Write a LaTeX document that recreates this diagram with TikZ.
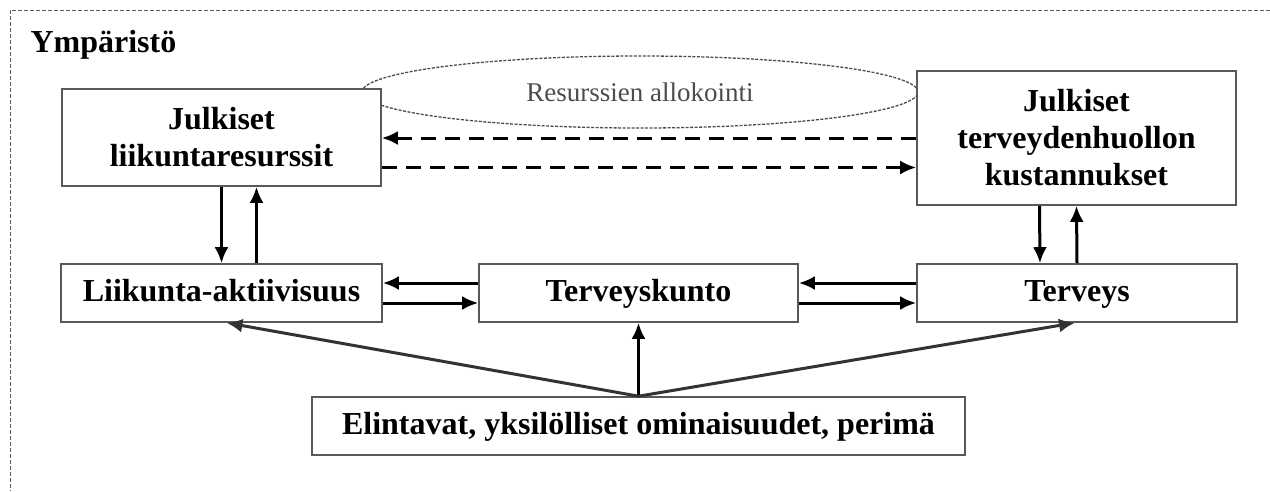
\documentclass[tikz,border=0pt]{standalone}
\usepackage{fontspec}
\setmainfont{Liberation Serif}
\usetikzlibrary{arrows.meta,positioning,shapes.geometric}
\definecolor{boxgray}{rgb}{0.35,0.35,0.35}
\definecolor{txtgray}{rgb}{0.3,0.3,0.3}

\begin{document}
\begin{tikzpicture}[x=1pt,y=-1pt,>=Latex,
  box/.style={draw=boxgray,line width=1.6pt,align=center,inner sep=0pt,font=\fontsize{32}{37}\selectfont\bfseries},
  onebox/.style={box,minimum height=58pt,text height=23pt,text depth=7pt},
  arr/.style={->,line width=3pt,>={Latex[length=16pt,width=14pt]}},
  darr/.style={arr,dash pattern=on 15pt off 9pt}]
\useasboundingbox (0,0) rectangle (1270,491);
\draw[boxgray,line width=1pt,dash pattern=on 4pt off 2pt] (1270,10) -- (10,10) -- (10,491);
\node[anchor=west,font=\fontsize{32}{37}\selectfont\bfseries] (env) at (27,45) {Ympäristö};
\node[ellipse,draw=txtgray,line width=1.3pt,dash pattern=on 3pt off 1.5pt,minimum width=556pt,minimum height=72pt,inner sep=0pt,text=txtgray,font=\fontsize{27}{30}\selectfont] (alloc) at (640,92) {\raisebox{-3pt}{Resurssien allokointi}};
\node[box,fill=white,minimum width=319pt,minimum height=97pt] (res) at (221.5,137.5) {Julkiset\\liikuntaresurssit};
\node[box,fill=white,minimum width=319pt,minimum height=134pt] (cost) at (1076.5,138) {Julkiset\\terveydenhuollon\\kustannukset};
\node[onebox,minimum width=321pt] (liik) at (221.5,293) {Liikunta-aktiivisuus};
\node[onebox,minimum width=319pt] (kunto) at (638.5,293) {Terveyskunto};
\node[onebox,minimum width=320pt] (terv) at (1077,293) {Terveys};
\node[onebox,minimum width=653pt] (elin) at (638.5,426) {Elintavat, yksilölliset ominaisuudet, perimä};
\draw[darr] (cost.west) -- (cost.west -| res.east);
\draw[darr] ([yshift=-30pt]res.east) -- ([yshift=-30pt]res.east -| cost.west);
\draw[arr] (res.south) -- (liik.north);
\draw[arr] ([xshift=35pt]liik.north) -- ([xshift=35pt]res.south);
\draw[arr] ([xshift=-37pt]cost.south) -- ([xshift=-37pt]terv.north);
\draw[arr] (terv.north) -- (cost.south);
\draw[arr] ([yshift=10pt]kunto.west) -- ([yshift=10pt]liik.east);
\draw[arr] ([yshift=-10pt]liik.east) -- ([yshift=-10pt]kunto.west);
\draw[arr] ([yshift=10pt]terv.west) -- ([yshift=10pt]kunto.east);
\draw[arr] ([yshift=-10pt]kunto.east) -- ([yshift=-10pt]terv.west);
\draw[arr] (elin.north) -- (kunto.south);
\draw[arr,black!80] (elin.north) -- ([xshift=5pt]liik.south);
\draw[arr,black!80] (elin.north) -- ([xshift=-2pt]terv.south);
\end{tikzpicture}
\end{document}
